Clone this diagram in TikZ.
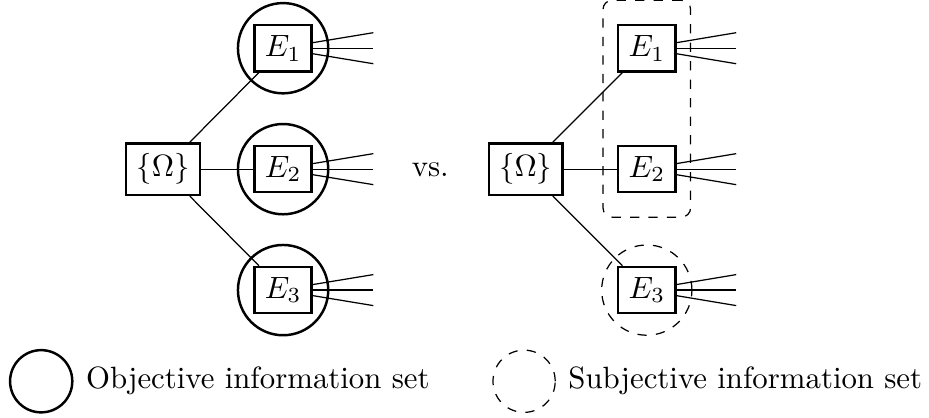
\documentclass[tikz,border=0pt]{standalone}
\usepackage{tikz}
\usetikzlibrary{positioning, fit}

\begin{document}
\begin{tikzpicture}[main/.style={rectangle, draw, thick},
        objset/.style={circle, draw, thick, minimum size=1.03cm},
        subjset/.style={circle, draw, dashed, minimum size=1.03cm}]
        \useasboundingbox (0,0) rectangle (10.60,-4.76);
        % objective tree
        \node[main] (o) at (1.86,-1.93) {$\{\Omega\}$};
        \node[main] (1) at (3.23,-0.55) {$E_1$};
        \node[main] (2) at (3.23,-1.93) {$E_2$};
        \node[main] (3) at (3.23,-3.31) {$E_3$};
        \foreach \n in {1,2,3} \node[objset] (c\n) at (\n) {};
        \foreach \n in {1,2,3} \draw (o) -- (\n);
        \foreach \n/\y in {1/-0.55, 2/-1.93, 3/-3.31} {
            \coordinate (t\n) at (4.26,{\y+0.177});
            \coordinate (m\n) at (4.26,\y);
            \coordinate (b\n) at (4.26,{\y-0.177});
            \draw ([yshift=1.8pt]\n.east) -- (t\n);
            \draw (\n.east) -- (m\n);
            \draw ([yshift=-1.8pt]\n.east) -- (b\n);
        }
        \node (vs) at (4.91,-1.94) {vs.};
        % subjective tree
        \node[main] (so) at (6.00,-1.93) {$\{\Omega\}$};
        \node[main] (s1) at (7.38,-0.55) {$E_1$};
        \node[main] (s2) at (7.38,-1.93) {$E_2$};
        \node[main] (s3) at (7.38,-3.31) {$E_3$};
        \node[draw, dashed, rounded corners=3pt, inner xsep=0.16cm, inner ysep=0.27cm, fit=(s1)(s2)] (sc12) {};
        \node[subjset] (sc3) at (s3) {};
        \foreach \n in {1,2,3} \draw (so) -- (s\n);
        \foreach \n/\y in {1/-0.55, 2/-1.93, 3/-3.31} {
            \coordinate (st\n) at (8.40,{\y+0.177});
            \coordinate (sm\n) at (8.40,\y);
            \coordinate (sb\n) at (8.40,{\y-0.177});
            \draw ([yshift=1.8pt]s\n.east) -- (st\n);
            \draw (s\n.east) -- (sm\n);
            \draw ([yshift=-1.8pt]s\n.east) -- (sb\n);
        }
        % legend
        \node[objset, minimum size=0.71cm] (lo) at (0.47,-4.35) {};
        \node[right=0.02cm of lo] (lot) {Objective information set};
        \node[subjset, minimum size=0.71cm] (ls) at (5.98,-4.35) {};
        \node[right=0.02cm of ls] (lst) {Subjective information set};
    \end{tikzpicture}
\end{document}
